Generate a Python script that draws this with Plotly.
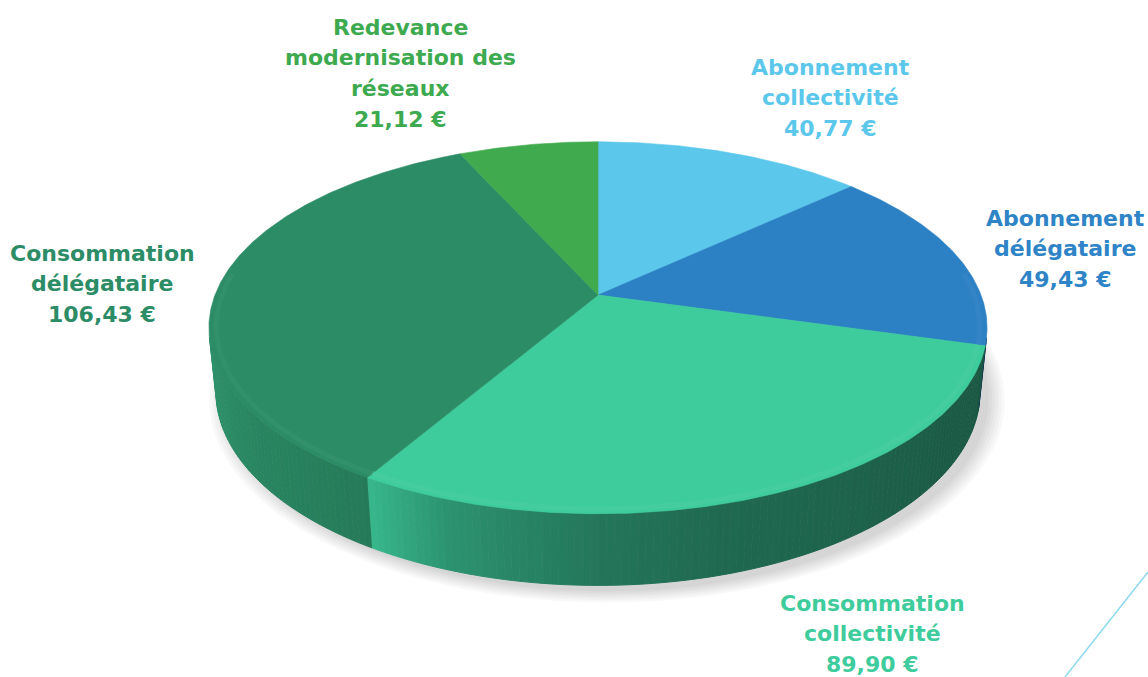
import numpy as np
import plotly.graph_objects as go

# ---------------- data ----------------
categories = ["Abonnement collectivité", "Abonnement délégataire",
              "Consommation collectivité", "Consommation délégataire",
              "Redevance modernisation des réseaux"]
values = [40.77, 49.43, 89.90, 106.43, 21.12]
label_lines = [["Abonnement", "collectivité"], ["Abonnement", "délégataire"],
               ["Consommation", "collectivité"], ["Consommation", "délégataire"],
               ["Redevance", "modernisation des", "réseaux"]]

# ---------------- style ----------------
top_colors = ["#5BC8EB", "#2C80C4", "#3ECC9C", "#2B8C66", "#40AB4E"]
label_colors = ["#5BC8EB", "#2E84C6", "#3ECC9C", "#2B8C66", "#3DAA4F"]
label_first_line = [(830, 67), (1065, 218), (872, 603), (102, 253), (400, 27)]
LINE_GAP = 30.8

W, Hpx = 1148, 677
CX, CY = 598, 295          # apex of the pie on screen
D = 5.01                   # camera distance (in radii)
F = 383 * D
PHI = np.radians(28.07)
S, C = np.sin(PHI), np.cos(PHI)
THICK = 0.19


def proj(theta_deg, z, r=1.0):
    t = np.radians(np.asarray(theta_deg, dtype=float))
    X = r * np.sin(t)
    Y = r * np.cos(t)
    depth = D + Y * C - z * S
    sx = F * X / depth
    sy = F * (Y * S + z * C) / depth
    return CX + sx, CY - sy


def hex_to_rgb(h):
    h = h.lstrip("#")
    return np.array([int(h[i:i + 2], 16) for i in (0, 2, 4)], dtype=float)


def shade(hexcol, f):
    rgb = np.clip(hex_to_rgb(hexcol) * f, 0, 255).astype(int)
    return "rgb(%d,%d,%d)" % tuple(rgb)


def lighten(hexcol, f):
    rgb = hex_to_rgb(hexcol)
    rgb = rgb + (255 - rgb) * f
    return "rgb(%d,%d,%d)" % tuple(rgb.astype(int))


total = sum(values)
bounds = np.concatenate([[0], np.cumsum(values) / total * 360.0])

fig = go.Figure()

# ---------------- soft shadow ----------------
tt = np.linspace(0, 360, 181)
for k in range(6):
    r = 1.0 + 0.008 * k
    xs, ys = proj(tt, -THICK, r)
    fig.add_trace(go.Scatter(x=xs + 9, y=ys + 6, mode="lines", fill="toself",
                             fillcolor="rgba(0,0,0,0.028)", line=dict(width=0),
                             hoverinfo="skip", showlegend=False))

# ---------------- side walls ----------------
vis = np.degrees(np.arccos(-1.0 / (D * C)))
vis_lo, vis_hi = vis, 360 - vis
light_t = [100, 125, 165, 180, 199, 210.5, 211, 235, 260]
light_f = [0.42, 0.45, 0.52, 0.58, 0.72, 0.9, 0.88, 0.96, 1.06]

for i in range(len(values)):
    a0, a1 = max(bounds[i], vis_lo), min(bounds[i + 1], vis_hi)
    if a1 <= a0:
        continue
    n = max(int(np.ceil((a1 - a0) / 1.0)), 1)
    edges = np.linspace(a0, a1, n + 1)
    for j in range(n):
        t0, t1 = edges[j], edges[j + 1]
        ts = np.linspace(t0, t1, 3)
        xt, yt = proj(ts, 0.0)
        xb, yb = proj(ts[::-1], -THICK)
        f = np.interp((t0 + t1) / 2, light_t, light_f)
        col = shade(top_colors[i], f)
        fig.add_trace(go.Scatter(x=np.concatenate([xt, xb]), y=np.concatenate([yt, yb]),
                                 mode="lines", fill="toself", fillcolor=col,
                                 line=dict(width=1, color=col),
                                 hoverinfo="skip", showlegend=False))

# ---------------- top faces ----------------
for i in range(len(values)):
    a0, a1 = bounds[i], bounds[i + 1]
    ts = np.linspace(a0, a1, max(int((a1 - a0) / 0.5), 2) + 1)
    xa, ya = proj(ts, 0.0)
    xs = np.concatenate([[CX], xa, [CX]])
    ys = np.concatenate([[CY], ya, [CY]])
    fig.add_trace(go.Scatter(x=xs, y=ys, mode="lines", fill="toself",
                             fillcolor=top_colors[i],
                             line=dict(width=0.6, color=top_colors[i]),
                             hoverinfo="skip", showlegend=False,
                             name=categories[i]))

# bevel highlight along the front rim
for i in range(len(values)):
    a0, a1 = max(bounds[i], vis_lo - 20), min(bounds[i + 1], vis_hi + 20)
    if a1 <= a0:
        continue
    ts = np.linspace(a0, a1, 80)
    xr, yr = proj(ts, 0.0, 0.982)
    fig.add_trace(go.Scatter(x=xr, y=yr, mode="lines",
                             line=dict(width=5, color=lighten(top_colors[i], 0.07)),
                             opacity=0.55, hoverinfo="skip", showlegend=False))

# ---------------- labels ----------------
for i in range(len(values)):
    lines = label_lines[i] + [("%.2f" % values[i]).replace(".", ",") + " €"]
    x0, y0 = label_first_line[i]
    for k, ln in enumerate(lines):
        fig.add_annotation(x=x0, y=y0 + k * LINE_GAP, xref="x", yref="y",
                           text="<b>%s</b>" % ln, showarrow=False,
                           xanchor="center", yanchor="middle",
                           font=dict(family="DejaVu Sans", size=22, color=label_colors[i]))

# decorative line (bottom right)
fig.add_shape(type="line", xref="paper", yref="paper",
              x0=1.0, y0=1 - 572 / Hpx, x1=1065 / W, y1=0.0,
              line=dict(color="#8FD9EF", width=1.5))

fig.update_layout(
    width=W, height=Hpx,
    margin=dict(l=0, r=0, t=0, b=0),
    paper_bgcolor="white", plot_bgcolor="white",
    xaxis=dict(range=[0, W], visible=False, fixedrange=True),
    yaxis=dict(range=[Hpx, 0], visible=False, fixedrange=True),
    showlegend=False,
)

fig.write_html("out.html", config={"displayModeBar": False},
               post_script="document.body.style.margin='0';document.body.style.overflow='hidden';")
